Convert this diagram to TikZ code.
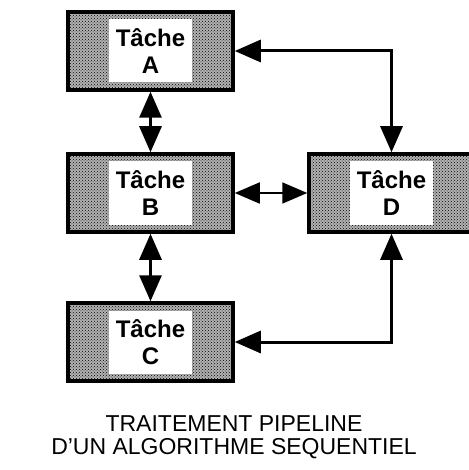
\documentclass[tikz,border=0pt]{standalone}
\usepackage{fontspec}
\setmainfont{Liberation Sans}
\usetikzlibrary{arrows.meta,patterns}

\begin{document}
\begin{tikzpicture}[x=1pt,y=-1pt,
  tache/.style={draw,line width=3.5pt,preaction={fill=black!30},pattern=crosshatch dots,
    pattern color=black,minimum width=165pt,minimum height=78pt,inner sep=0pt},
  etiq/.style={fill=white,minimum width=83pt,minimum height=63pt,inner sep=0pt,
    align=center,font=\fontsize{24}{27}\selectfont\bfseries},
  fleche/.style={line width=3pt,{Triangle[length=26pt,width=22pt]}-{Triangle[length=26pt,width=22pt]}},
  mince/.style={line width=1.8pt,{Triangle[length=25pt,width=21pt]}-{Triangle[length=25pt,width=21pt]}}]
  \useasboundingbox (0,0) rectangle (468,470);
  % ---- taches ----
  \node[tache] (A) at (150.5,51)  {};
  \node[etiq]  (tA) at (A) {Tâche\\A};
  \node[tache] (B) at (150.5,193) {};
  \node[etiq]  (tB) at (B) {Tâche\\B};
  \node[tache] (C) at (150.5,342) {};
  \node[etiq]  (tC) at (C) {Tâche\\C};
  \node[tache] (D) at (391.5,193) {};
  \node[etiq]  (tD) at (D) {Tâche\\D};
  % ---- liaisons ----
  \draw[fleche] (A.south) -- (B.north);
  \draw[fleche] (B.south) -- (C.north);
  \draw[mince] (B.east) -- (D.west);
  \draw[fleche] (A.east) -| (D.north);
  \draw[fleche] (C.east) -| (D.south);
  % ---- legende ----
  \node[align=center,font=\fontsize{23}{23}\selectfont] (leg) at (234,437)
    {TRAITEMENT PIPELINE\\D'UN ALGORITHME SEQUENTIEL};
\end{tikzpicture}
\end{document}
